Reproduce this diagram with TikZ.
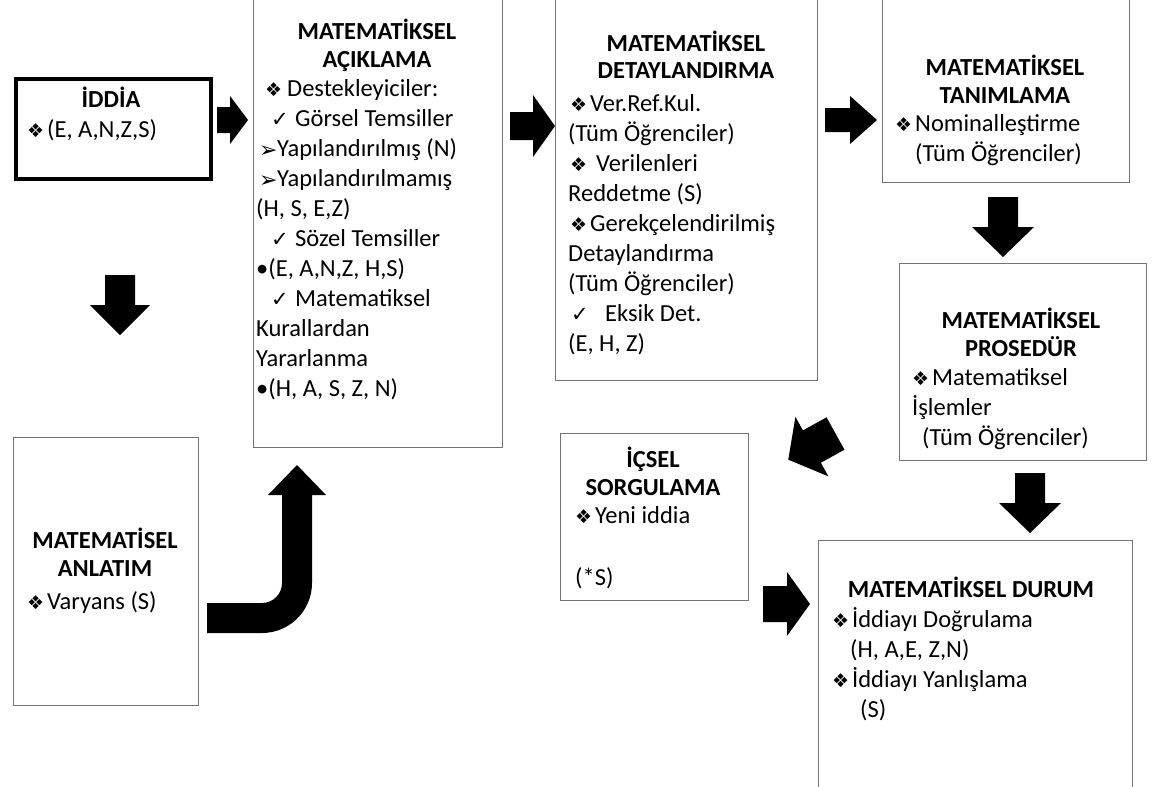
\documentclass[tikz,border=0pt]{standalone}
\usepackage{fontspec}
\setmainfont{Carlito}
\newfontfamily\symfont{DejaVu Sans}
% bullet glyphs
\newcommand\dia{{\symfont\fontsize{19}{19}\selectfont\raisebox{-0.5pt}{❖}}}
\newcommand\chk{{\symfont\fontsize{21}{21}\selectfont ✓}}
\newcommand\parr{{\symfont\fontsize{22}{22}\selectfont\raisebox{-1pt}{➢}}}
% stacked lines, baseline at the first line
\newcommand\lines[2]{\begin{tabular}[t]{@{}#1@{}}#2\end{tabular}}

\begin{document}
\begin{tikzpicture}[x=1pt,y=-1pt,
  panel/.style={draw=black!55, line width=0.8pt, fill=white, inner sep=0pt, anchor=north west},
  claim/.style={draw=black, line width=4pt, fill=white, inner sep=0pt, anchor=north west},
  head/.style={inner sep=0pt, anchor=base, font=\bfseries\fontsize{24.5}{28}\selectfont},
  body/.style={inner sep=0pt, anchor=base west, font=\fontsize{24.5}{30}\selectfont},
  arrowfill/.style={fill=black},
  pics/blockarr/.style n args={4}{code={
    \fill[arrowfill] (0,-#3) -- (#2,-#3) -- (#2,-#4) -- (#1,0) -- (#2,#4) -- (#2,#3) -- (0,#3) -- cycle;}}
]
\useasboundingbox (0,0) rectangle (1157,787);
\fill[white] (0,0) rectangle (1157,787);
\clip (0,0) rectangle (1157,787);

% boxes
\node[claim, minimum width=195pt, minimum height=100pt] (iddia) at (14,77) {};
\node[panel, minimum width=249pt, minimum height=448pt] (acik) at (253,-1) {};
\node[panel, minimum width=262pt, minimum height=381pt] (detay) at (555,-1) {};
\node[panel, minimum width=247pt, minimum height=183pt] (tanim) at (882,-1) {};
\node[panel, minimum width=247pt, minimum height=197pt] (prosedur) at (899,263) {};
\node[panel, minimum width=188pt, minimum height=167pt] (icsel) at (560,433) {};
\node[panel, minimum width=185pt, minimum height=268pt] (anlatim) at (13,437) {};
\node[panel, minimum width=314pt, minimum height=252pt] (durum) at (818,540) {};

% İDDİA
\node[head] (iddiaT) at (111,107) {İDDİA};
\node[body] (iddiaB) at (27,137) {\makebox[20pt][l]{\dia}(E, A,N,Z,S)};

% AÇIKLAMA
\node[head] (acikT) at (377,39) {\lines{c}{MATEMATİKSEL\\AÇIKLAMA}};
\node[body] (acikB) at (256,96) {\lines{l}{%
  \hspace*{9pt}\makebox[22pt][l]{\dia}Destekleyiciler:\\
  \hspace*{15pt}\makebox[24pt][l]{\chk}Görsel Temsiller\\
  \hspace*{3pt}\makebox[18pt][l]{\parr}Yapılandırılmış (N)\\
  \hspace*{3pt}\makebox[18pt][l]{\parr}Yapılandırılmamış\\
  (H, S, E,Z)\\
  \hspace*{15pt}\makebox[24pt][l]{\chk}Sözel Temsiller\\
  •(E, A,N,Z, H,S)\\
  \hspace*{15pt}\makebox[24pt][l]{\chk}Matematiksel\\
  Kurallardan\\
  Yararlanma\\
  •(H, A, S, Z, N)}};

% DETAYLANDIRMA
\node[head] (detayT) at (686,51) {\lines{c}{MATEMATİKSEL\\DETAYLANDIRMA}};
\node[body] (detayB) at (568,111) {\lines{l}{%
  \hspace*{2pt}\makebox[20pt][l]{\dia}Ver.Ref.Kul.\\
  (Tüm Öğrenciler)\\
  \hspace*{2pt}\makebox[26pt][l]{\dia}Verilenleri\\
  Reddetme (S)\\
  \hspace*{2pt}\makebox[20pt][l]{\dia}Gerekçelendirilmiş\\
  Detaylandırma\\
  (Tüm Öğrenciler)\\
  \hspace*{3pt}\makebox[34pt][l]{\chk}Eksik Det.\\
  (E, H, Z)}};

% TANIMLAMA
\node[head] (tanimT) at (1005,75) {\lines{c}{MATEMATİKSEL\\TANIMLAMA}};
\node[body] (tanimB) at (895,131) {\lines{l}{%
  \makebox[20pt][l]{\dia}Nominalleştirme\\
  \hspace*{20pt}(Tüm Öğrenciler)}};

% PROSEDÜR
\node[head] (prosedurT) at (1021,328) {\lines{c}{MATEMATİKSEL\\PROSEDÜR}};
\node[body] (prosedurB) at (912,385) {\lines{l}{%
  \makebox[20pt][l]{\dia}Matematiksel\\
  İşlemler\\
  \hspace*{10pt}(Tüm Öğrenciler)}};

% İÇSEL SORGULAMA
\node[head] (icselT) at (653,467) {\lines{c}{İÇSEL\\SORGULAMA}};
\node[body] (icselB) at (575,523) {\makebox[20pt][l]{\dia}Yeni iddia};
\node[body] (icselS) at (575,585) {(*S)};

% ANLATIM
\node[head] (anlatimT) at (105,548) {\lines{c}{MATEMATİSEL\\ANLATIM}};
\node[body] (anlatimB) at (27,609) {\makebox[20pt][l]{\dia}Varyans (S)};

% DURUM
\node[head] (durumT) at (971,597) {MATEMATİKSEL DURUM};
\node[body] (durumB) at (832,627) {\lines{l}{%
  \makebox[20pt][l]{\dia}İddiayı Doğrulama\\
  \hspace*{18pt}(H, A,E, Z,N)\\
  \makebox[20pt][l]{\dia}İddiayı Yanlışlama\\
  \hspace*{28pt}(S)}};

% block arrows: tail point, then length, head base, shaft and head half widths
\coordinate (a1) at (217,120);
\coordinate (a2) at (510,126);
\coordinate (a3) at (825,120);
\coordinate (a4) at (120,275);
\coordinate (a5) at (1003,197);
\coordinate (a6) at (1030,473);
\coordinate (a7) at (835.5,433.5);
\coordinate (a8) at (763,604);
\pic at (a1) {blockarr={31}{13}{13}{24}};
\pic at (a2) {blockarr={45}{23}{14}{31}};
\pic at (a3) {blockarr={52}{25}{12}{24}};
\pic[rotate=-90] at (a4) {blockarr={60}{30}{15}{30}};
\pic[rotate=-90] at (a5) {blockarr={60}{30}{15}{31}};
\pic[rotate=-90] at (a6) {blockarr={60}{30}{15}{31}};
\pic[rotate=209] at (a7) {blockarr={54}{27}{18.5}{34}};
\pic at (a8) {blockarr={47}{24}{18}{32}};

% bent arrow from ANLATIM up to AÇIKLAMA
\fill[arrowfill] (207,603) -- (262,603) arc[start angle=-90, end angle=0, radius=20pt]
  -- (282,495) -- (268,495) -- (297,465) -- (326,495) -- (312,495) -- (312,583)
  arc[start angle=0, end angle=-90, radius=50pt] -- (207,633) -- cycle;
\end{tikzpicture}
\end{document}
